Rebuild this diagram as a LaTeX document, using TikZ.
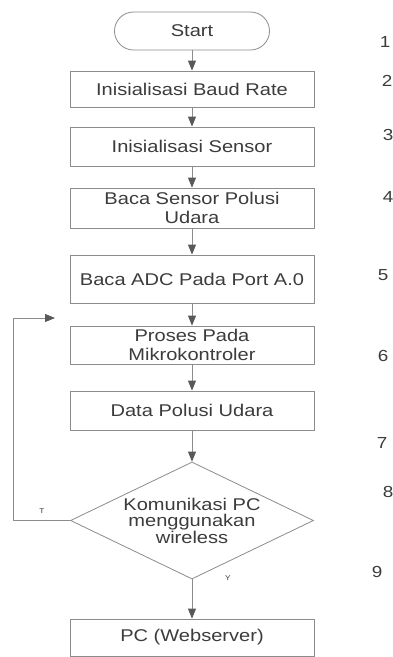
\documentclass[tikz,border=0pt]{standalone}
\usepackage{fontspec}
\setmainfont{Liberation Sans}[FakeStretch=1.18]
\usetikzlibrary{arrows.meta,shapes.geometric}
\definecolor{ink}{HTML}{3C3C3C}
\definecolor{edge}{HTML}{8C8C8C}
\begin{document}
\begin{tikzpicture}[x=1pt,y=-1pt,
  every node/.style={text=ink, inner sep=0pt},
  txt/.style={font=\fontsize{17}{19.5}\selectfont},
  proc/.style={txt, draw=edge, line width=0.8pt, minimum width=244pt, align=center},
  term/.style={txt, draw=edge, line width=0.8pt, rounded corners=19pt,
               minimum width=155pt, minimum height=38pt},
  decision/.style={font=\fontsize{17}{16.5}\selectfont, draw=edge, line width=0.8pt,
               diamond, aspect=2.08, minimum width=243pt, minimum height=117pt, align=center},
  flow/.style={draw=edge, line width=0.8pt, -{Triangle[length=10pt,width=8pt,color=ink!85]}},
  num/.style={font=\fontsize{16}{18}\selectfont},
  branch/.style={font=\fontsize{7}{8}\selectfont}
]
  % page
  \fill[white] (0,0) rectangle (393,657);
  \useasboundingbox (0,0) rectangle (393,657);

  % flow steps
  \node[term] (start) at (192,31) {Start};
  \node[proc, minimum height=36pt] (baud) at (192,89) {Inisialisasi Baud Rate};
  \node[proc, minimum height=39pt] (sensor) at (192,146.5) {Inisialisasi Sensor};
  \node[proc, minimum height=40pt] (baca) at (192,208) {Baca Sensor Polusi\\Udara};
  \node[proc, minimum height=48pt] (adc) at (192,279) {Baca ADC Pada Port A.0};
  \node[proc, minimum height=38pt] (mcu) at (192,345) {Proses Pada\\Mikrokontroler};
  \node[proc, minimum height=39pt] (data) at (192,410.5) {Data Polusi Udara};
  \node[decision] (wifi) at (192,520.5) {Komunikasi PC\\menggunakan\\wireless};
  \node[proc, minimum height=37pt] (pc) at (192,637.5) {PC (Webserver)};

  % connectors
  \draw[flow] (start) -- (baud);
  \draw[flow] (baud) -- (sensor);
  \draw[flow] (sensor) -- (baca);
  \draw[flow] (baca) -- (adc);
  \draw[flow] (adc) -- (mcu);
  \draw[flow] (mcu) -- (data);
  \draw[flow] (data) -- (wifi);
  \draw[flow] (wifi) -- (pc);

  % loop back on "T"
  \coordinate (corner) at (13,318);
  \coordinate (loopend) at (55,318);
  \draw[flow] (wifi.west) -| (corner) -- (loopend);

  % branch labels
  \node[branch] (lblT) at (42,511) {T};
  \node[branch] (lblY) at (228,578) {Y};

  % step numbers
  \node[num] (n1) at (385,42) {1};
  \node[num] (n2) at (387,81) {2};
  \node[num] (n3) at (388,135) {3};
  \node[num] (n4) at (388,197) {4};
  \node[num] (n5) at (383,275) {5};
  \node[num] (n6) at (383,356) {6};
  \node[num] (n7) at (382,443) {7};
  \node[num] (n8) at (388,492) {8};
  \node[num] (n9) at (377,572) {9};
\end{tikzpicture}
\end{document}
